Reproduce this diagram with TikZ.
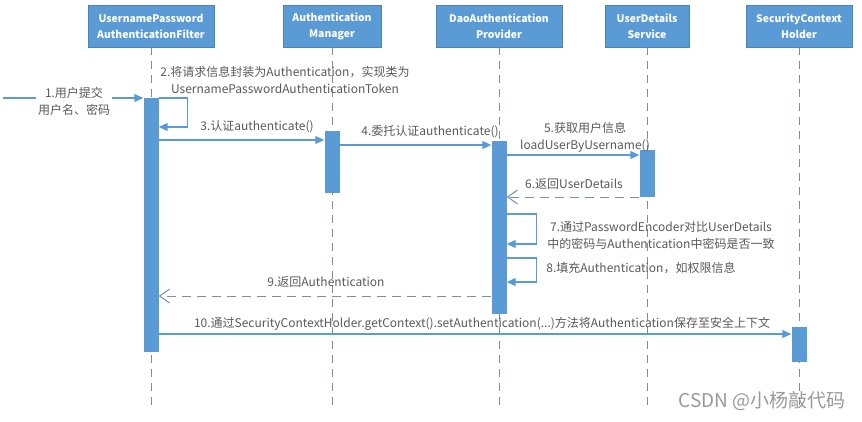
\documentclass[tikz,border=0pt]{standalone}
\usepackage{fontspec}
\setmainfont{Noto Sans CJK SC}
\usetikzlibrary{arrows.meta}
\definecolor{boxblue}{HTML}{5B9BD5}
\definecolor{lifegray}{HTML}{7F8B9E}
\definecolor{retgray}{HTML}{7B8DAA}
\definecolor{txtgray}{HTML}{595959}

\begin{document}
\begin{tikzpicture}[x=1pt,y=-1pt]
        \tikzstyle{every node}=[text=txtgray, inner sep=1pt, font=\fontsize{12}{17}\selectfont, align=center]
        \tikzstyle{head}=[fill=boxblue, draw=boxblue!85!black, minimum height=42, text=white, font=\fontsize{10.4}{16}\selectfont\bfseries]
        \tikzstyle{bar}=[fill=boxblue, draw=none, minimum width=15, inner sep=0pt]
        \tikzstyle{life}=[draw=lifegray, dash pattern=on 8pt off 6pt, line width=0.9pt]
        \tikzstyle{msg}=[draw=boxblue, line width=1.1pt, -{Triangle[length=9pt,width=8pt]}]
        \tikzstyle{ret}=[draw=retgray, line width=1pt, dash pattern=on 9pt off 6pt, -{Straight Barb[length=10pt,width=14pt]}]
        \useasboundingbox (0,0) rectangle (862,421);
        \node[head, minimum width=126] (filter) at (151,26) {UsernamePassword\\AuthenticationFilter};
        \node[head, minimum width=98] (manager) at (332,26) {Authentication\\Manager};
        \node[head, minimum width=126] (provider) at (499,26) {DaoAuthentication\\Provider};
        \node[head, minimum width=84] (uds) at (647,26) {UserDetails\\Service};
        \node[head, minimum width=106] (holder) at (799,26) {SecurityContext\\Holder};
        \foreach \n in {filter,manager,provider,uds,holder}
                \draw[life] (\n.south) -- (\n.south |- 0,410);
        \node[bar, minimum height=254] (fbar) at (151,225) {};
        \node[bar, minimum height=62] (mbar) at (332,162) {};
        \node[bar, minimum height=173] (pbar) at (499,227.5) {};
        \node[bar, minimum height=47] (ubar) at (647,173.5) {};
        \node[bar, minimum height=35] (hbar) at (799,344.5) {};
        \coordinate (user) at (3,98);
        \draw[msg] (user) -- (fbar.west |- user);
        \node[fill=white, inner sep=2pt] (l1) at (74,101) {1.用户提交\\用户名、密码};
        \draw[msg] (fbar.east |- 0,98) -- ++(29,0) |- (fbar.east |- 0,127);
        \node (l2) at (285,80) {2.将请求信息封装为Authentication，实现类为\\UsernamePasswordAuthenticationToken};
        \draw[msg] (fbar.east |- 0,140) -- (mbar.west |- 0,140);
        \node (l3) at (257,127) {3.认证authenticate()};
        \draw[msg] (mbar.east |- 0,145) -- (pbar.west |- 0,145);
        \node (l4) at (430,132) {4.委托认证authenticate()};
        \draw[msg] (pbar.east |- 0,155) -- (ubar.west |- 0,155);
        \node (l5) at (585,137) {5.获取用户信息\\loadUserByUsername()};
        \draw[ret] (ubar.west |- 0,197) -- (pbar.east |- 0,197);
        \node (l6) at (574,184) {6.返回UserDetails};
        \draw[msg] (pbar.east |- 0,214) -- ++(30,0) |- (pbar.east |- 0,244);
        \node (l7) at (661,235) {7.通过PasswordEncoder对比UserDetails\\中的密码与Authentication中密码是否一致};
        \draw[msg] (pbar.east |- 0,258) -- ++(30,0) |- (pbar.east |- 0,282);
        \node (l8) at (641,268) {8.填充Authentication，如权限信息};
        \draw[ret] (pbar.west |- 0,296) -- (fbar.east |- 0,296);
        \node (l9) at (326,282) {9.返回Authentication};
        \draw[msg] (fbar.east |- 0,334) -- (hbar.west |- 0,334);
        \node (l10) at (482,324) {10.通过SecurityContextHolder.getContext().setAuthentication(...)方法将Authentication保存至安全上下文};
        \node[text=black!40, font=\fontsize{19}{22}\selectfont] (mark) at (762,401) {CSDN @小杨敲代码};
    \end{tikzpicture}
\end{document}
